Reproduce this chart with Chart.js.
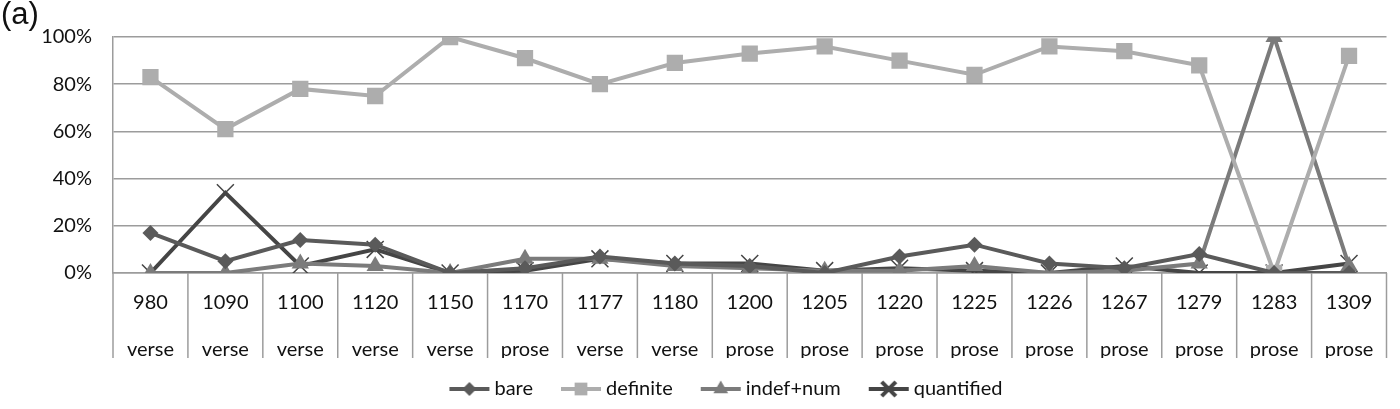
<!DOCTYPE html>
<html>
<head>
<meta charset="utf-8">
<script src="https://cdn.jsdelivr.net/npm/chart.js@4.4.1/dist/chart.umd.min.js"></script>
<style>
  html, body { margin: 0; padding: 0; background: #fff; }
  #wrap { position: relative; width: 1400px; height: 409px; }
  #tag { position: absolute; left: 1px; top: -4px; font: 31px "Liberation Sans", Arial, sans-serif; color: #111; }
</style>
</head>
<body>
<div id="wrap">
  <div id="tag">(a)</div>
  <canvas id="myChart" width="1400" height="409"></canvas>
</div>
<script>
  // Dữ liệu
  const years = ['980', '1090', '1100', '1120', '1150', '1170', '1177', '1180', '1200', '1205', '1220', '1225', '1226', '1267', '1279', '1283', '1309'];
  const genres = ['verse', 'verse', 'verse', 'verse', 'verse', 'prose', 'verse', 'verse', 'prose', 'prose', 'prose', 'prose', 'prose', 'prose', 'prose', 'prose', 'prose'];
  const bare = [17, 5, 14, 12, 0, 2, 7, 4, 3, 0, 7, 12, 4, 2, 8, 0, 0];
  const definite = [83, 61, 78, 75, 100, 91, 80, 89, 93, 96, 90, 84, 96, 94, 88, 0, 92];
  const indefNum = [0, 0, 4, 3, 0, 6, 6, 3, 2, 1, 1, 3, 0, 1, 4, 100, 3];
  const quantified = [0, 34, 3, 10, 0, 1, 6, 4, 4, 1, 2, 1, 0, 3, 0, 0, 4];
  const yTicks = [0, 20, 40, 60, 80, 100];

  const FONT = 'Lato';
  const gridColor = '#9c9c9c';

  function series(label, values, color, style, radius) {
    return {
      label: label,
      data: values,
      borderColor: color,
      backgroundColor: color,
      borderWidth: 4,
      pointStyle: style,
      pointRadius: radius,
      pointBorderWidth: style === 'crossRot' ? 1.5 : 0,
      pointBorderColor: color,
      tension: 0
    };
  }

  const data = {
    labels: years.map((y, i) => [y, genres[i]]),
    datasets: [
      series('bare', bare, '#5a5a5a', 'rectRot', 8),
      series('definite', definite, '#adadad', 'rect', 11.5),
      series('indef+num', indefNum, '#7b7b7b', 'triangle', 10),
      series('quantified', quantified, '#454545', 'crossRot', 12)
    ]
  };

  // legend icon: short line with the marker in the middle
  const BOX = 42, ICON_OFF = 7, ICON_W = 40, PAD = 10;
  function legendIcon(ds) {
    const c = document.createElement('canvas');
    c.width = BOX + 2 * PAD; c.height = 20;
    const g = c.getContext('2d');
    const x0 = PAD + ICON_OFF;
    g.strokeStyle = ds.borderColor;
    g.fillStyle = ds.backgroundColor;
    g.lineWidth = 4;
    g.beginPath(); g.moveTo(x0, 10); g.lineTo(x0 + ICON_W, 10); g.stroke();
    const r = { rectRot: 7, rect: 9, triangle: 8.5, crossRot: 10 }[ds.pointStyle];
    Chart.helpers.drawPoint(g, { pointStyle: ds.pointStyle, radius: r, borderWidth: ds.pointStyle === 'crossRot' ? 1.5 : 0 }, x0 + ICON_W / 2, 10);
    return c;
  }

  // vertical separators under the axis, between the categories
  const separators = {
    id: 'separators',
    afterDraw(chart) {
      const xs = chart.scales.x;
      const n = chart.data.labels.length;
      const g = chart.ctx;
      g.save();
      g.strokeStyle = gridColor;
      g.lineWidth = 1.5;
      for (let i = 0; i <= n; i++) {
        const x = xs.left + i * xs.width / n;
        g.beginPath(); g.moveTo(x, xs.top); g.lineTo(x, xs.bottom); g.stroke();
      }
      g.restore();
    }
  };

  // legend sits a bit right of centre in the reference
  const legendShift = {
    id: 'legendShift',
    afterLayout(chart) {
      chart.legend.left += 25;
      chart.legend.right += 25;
    }
  };

  const ctx = document.getElementById('myChart').getContext('2d');
  const myChart = new Chart(ctx, {
    type: 'line',
    data: data,
    plugins: [separators, legendShift],
    options: {
      responsive: false,
      animation: false,
      layout: { padding: { top: 37, right: 5, left: 0, bottom: 0 } },
      plugins: {
        tooltip: { enabled: false },
        legend: {
          position: 'bottom',
          labels: {
            usePointStyle: true,
            pointStyleWidth: BOX,
            padding: 21,
            color: '#111',
            font: { family: FONT, size: 20 },
            generateLabels: chart => chart.data.datasets.map((ds, i) => ({
              text: ds.label,
              pointStyle: legendIcon(ds),
              fillStyle: ds.backgroundColor,
              strokeStyle: ds.borderColor,
              lineWidth: 0,
              fontColor: '#111',
              datasetIndex: i
            }))
          }
        }
      },
      scales: {
        x: {
          offset: true,
          afterFit: s => { s.height = 85; },
          border: { display: true, color: gridColor, width: 1.5 },
          grid: { display: false },
          ticks: {
            padding: -2,
            maxRotation: 0,
            autoSkip: true,
            autoSkipPadding: 0,
            color: '#111',
            font: { family: FONT, size: 20, lineHeight: 2.35 }
          }
        },
        y: {
          min: 0,
          max: 100,
          afterFit: s => { s.width = 113; },
          afterBuildTicks: s => { s.ticks = yTicks.map(v => ({ value: v })); },
          border: { display: true, color: gridColor, width: 1.5 },
          grid: { color: gridColor, lineWidth: 1.5, drawTicks: false },
          ticks: {
            padding: 21,
            color: '#111',
            font: { family: FONT, size: 20 },
            callback: v => v + '%'
          }
        }
      }
    }
  });
</script>
</body>
</html>
